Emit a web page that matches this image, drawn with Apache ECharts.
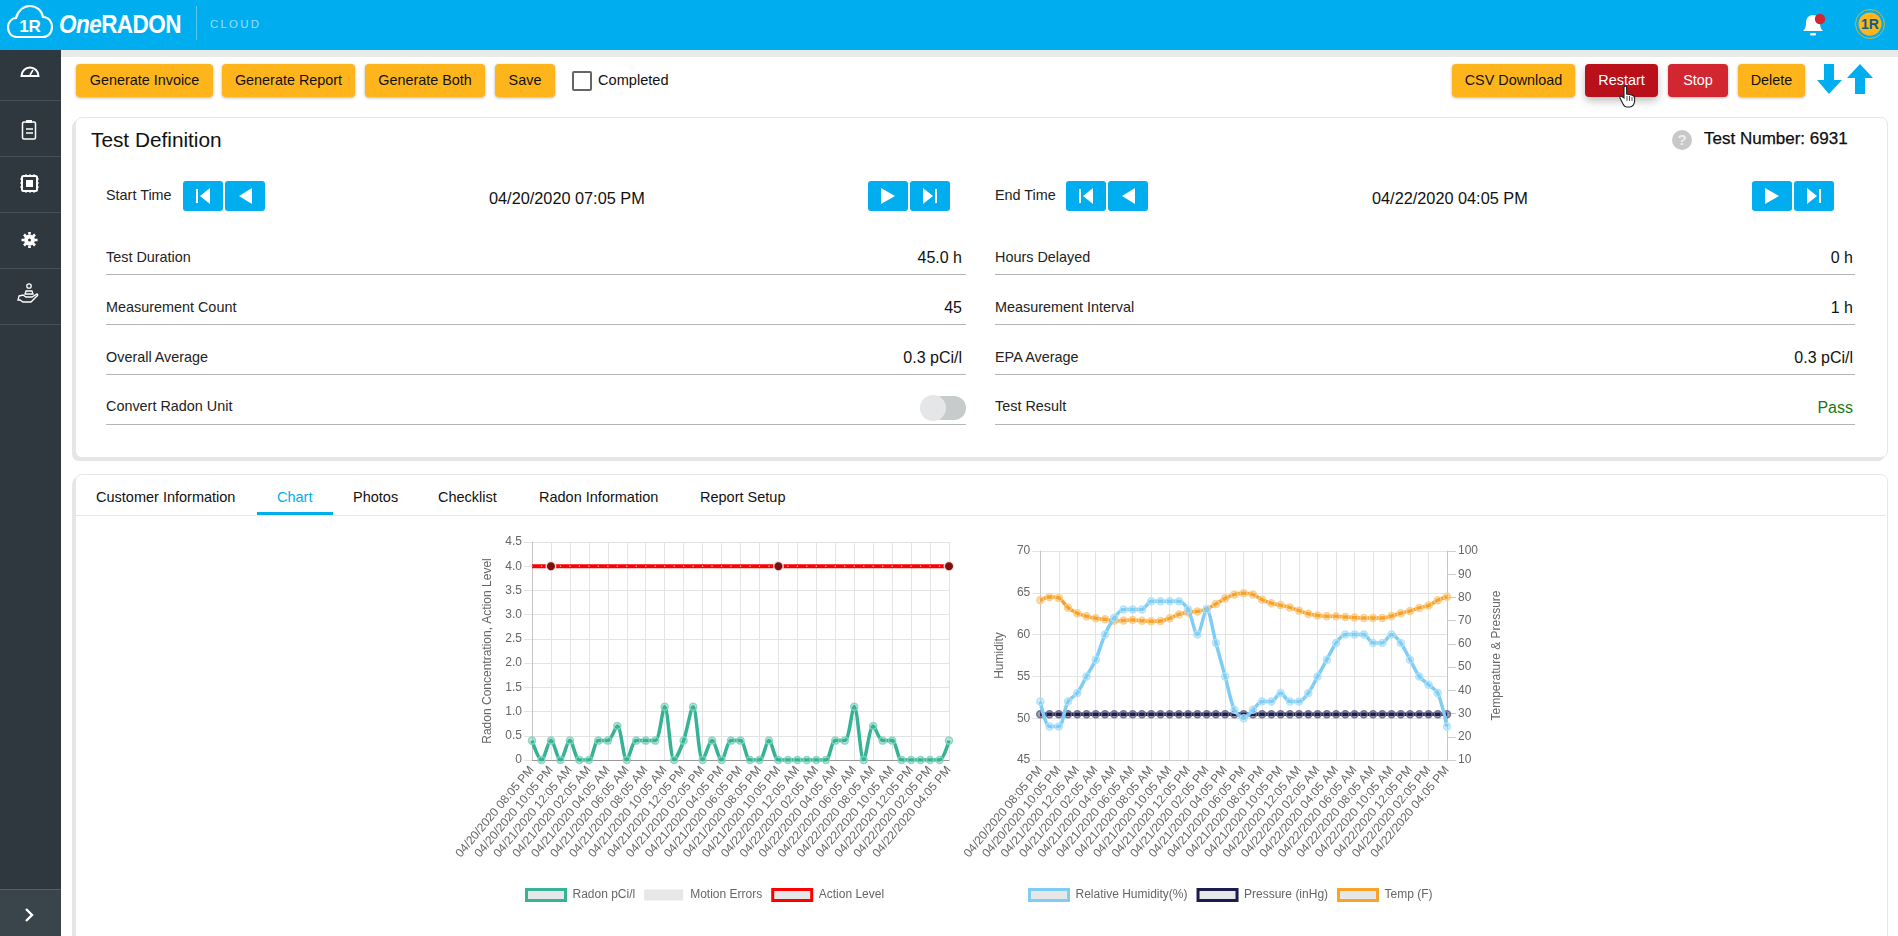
<!DOCTYPE html>
<html>
<head>
<meta charset="utf-8">
<title>OneRADON</title>
<script src="https://cdn.jsdelivr.net/npm/echarts@6/dist/echarts.min.js"></script>
<style>
html, body { margin: 0; padding: 0; width: 1898px; height: 936px; overflow: hidden; background: #fff; font-family: "Liberation Sans", Arial, sans-serif; color: #111; }
.abs, .btn, .label, .value, .rule, .nav, .tab, .sq, .card { position: absolute; }
.btn { top: 64px; height: 33px; line-height: 33px; text-align: center; font-size: 14.4px; border-radius: 4px; background: #fdb51b; box-shadow: 0 1px 3px rgba(0,0,0,.3); }
.red { color: #fff; }
.label { font-size: 14.4px; color: #222; line-height: 18px; }
.value { font-size: 16px; line-height: 18px; text-align: right; }
.rule { height: 1px; background: #b5b5b5; }
.nav { left: 0; width: 61px; height: 1px; background: #444e55; }
.tab { top: 488px; font-size: 14.5px; line-height: 18px; }
.sq { top: 181px; height: 30px; background: #00aeef; border-radius: 3px; }
.card { background: #fff; border: 1px solid #e4e6e8; border-radius: 7px; box-shadow: -3px 3px 0 #e4e6e8; }
.chart { position: absolute; }
</style>
</head>
<body>
<!-- header -->
<div class="abs" style="left:0;top:50px;width:1898px;height:7px;background:#e8eaec"></div>
<div class="abs" style="left:0;top:0;width:1898px;height:50px;background:#00aeef"></div>
<svg class="abs" style="left:6px;top:4px" width="48" height="36" viewBox="0 0 48 36">
  <path d="M11 33 C4 33 2 27 2 23 C2 18 6 14 10 14 C12 6 18 2 24 2 C31 2 36 7 37 13 C43 13 46 18 46 23 C46 29 42 33 37 33 Z" fill="none" stroke="#fff" stroke-width="2.2"/>
  <text x="24" y="28" text-anchor="middle" font-size="17" font-weight="bold" fill="#fff" font-family="Liberation Sans">1R</text>
</svg>
<div class="abs" style="left:59px;top:8px;color:#fff;font-size:25px;line-height:32px;letter-spacing:-.6px;font-weight:bold;transform:scaleX(.9);transform-origin:left"><i>One</i>RADON</div>
<div class="abs" style="left:196px;top:6px;width:1px;height:34px;background:rgba(255,255,255,.35)"></div>
<div class="abs" style="left:210px;top:17px;color:rgba(255,255,255,.6);font-size:11.5px;line-height:14px;letter-spacing:2.2px">CLOUD</div>
<svg class="abs" style="left:1800px;top:10px" width="30" height="28" viewBox="0 0 30 28">
  <path d="M13 5 C8 5 6 9 6 13 C6 17 5 19 3 21 L23 21 C21 19 20 17 20 13 C20 9 18 5 13 5 Z" fill="#fff"/>
  <rect x="10" y="23" width="6" height="2.4" rx="1.2" fill="#fff"/>
  <circle cx="20" cy="9" r="5.2" fill="#d22630"/>
</svg>
<svg class="abs" style="left:1854px;top:8px" width="32" height="32" viewBox="0 0 32 32">
  <circle cx="16" cy="16" r="14.5" fill="none" stroke="#fdb51b" stroke-width=".8"/>
  <circle cx="16" cy="16" r="11.5" fill="#fdb51b"/>
  <text x="16" y="21" text-anchor="middle" font-size="14" font-weight="bold" fill="#0b5c8a" font-family="Liberation Sans">1R</text>
</svg>

<!-- sidebar -->
<div class="abs" style="left:0;top:50px;width:61px;height:886px;background:#2f383f"></div>
<div class="abs" style="left:0;top:889px;width:61px;height:47px;background:#39444b"></div>
<div class="nav" style="top:100px"></div>
<div class="nav" style="top:156px"></div>
<div class="nav" style="top:212px"></div>
<div class="nav" style="top:268px"></div>
<div class="nav" style="top:324px"></div>
<div class="nav" style="top:889px;background:#55616a"></div>
<svg class="abs" style="left:0;top:50px" width="61" height="300" viewBox="0 0 61 300" fill="none" stroke="#fff">
  <path d="M21.5 26 A8 8 0 1 1 38.5 26 Z" stroke-width="2"/><path d="M30 25 L33 20" stroke-width="1.5"/>
  <rect x="22.5" y="72" width="13" height="17" rx="1.5" stroke-width="1.5"/><rect x="26" y="70" width="6" height="3" fill="#fff" stroke="none"/><path d="M26 79h7M26 83h7" stroke-width="1.3"/>
  <rect x="22" y="126" width="15" height="15" rx="1.5" stroke-width="2"/><rect x="26" y="130" width="7" height="7" fill="#fff" stroke="none"/><path d="M20 129h2M20 133h2M20 137h2M37 129h2M37 133h2M37 137h2M26 124v2M30 124v2M34 124v2M26 141v2M30 141v2M34 141v2" stroke-width="1"/>
  <circle cx="29.5" cy="190" r="3.5" stroke-width="4"/><path d="M29.5 182v2.5M29.5 195.5v2.5M21.5 190h2.5M35 190h2.5M24 184.5l2 2M33 193.5l2 2M35 184.5l-2 2M26 193.5l-2 2" stroke-width="2.6"/>
  <circle cx="29" cy="236" r="2.2" stroke-width="1.3"/><path d="M26 241h6l1 3h-8zM19 246l4-1 3 2h6l5-3c1 0 1 2 0 2l-6 6h-8l-3-2h-2z" stroke-width="1.3"/>
</svg>
<svg class="abs" style="left:23px;top:907px" width="12" height="16" viewBox="0 0 12 16"><path d="M3 2 L9 8 L3 14" fill="none" stroke="#fff" stroke-width="2.4"/></svg>

<!-- toolbar -->
<div class="btn" style="left:76px;width:137px">Generate Invoice</div>
<div class="btn" style="left:222px;width:133px">Generate Report</div>
<div class="btn" style="left:365px;width:120px">Generate Both</div>
<div class="btn" style="left:495px;width:60px">Save</div>
<div class="abs" style="left:572px;top:71px;width:16px;height:16px;border:2px solid #666;border-radius:2px"></div>
<div class="abs" style="left:598px;top:71px;font-size:14.6px;line-height:18px">Completed</div>
<div class="btn" style="left:1452px;width:123px">CSV Download</div>
<div class="btn red" style="left:1585px;width:73px;background:#b9101a;box-shadow:0 4px 8px rgba(0,0,0,.25)">Restart</div>
<div class="btn red" style="left:1668px;width:60px;background:#d22630">Stop</div>
<div class="btn" style="left:1738px;width:67px">Delete</div>
<svg class="abs" style="left:1816px;top:63px" width="60" height="32" viewBox="0 0 60 32" fill="#00aeef">
  <path d="M8 1h10v16h8L13 31 1 17h7z"/><path d="M44 1l13 14h-8v16H39V15h-8z"/>
</svg>
<svg class="abs" style="left:1618px;top:85px" width="20" height="24" viewBox="0 0 20 24">
  <path d="M6 2c1-1.5 2.5-1 2.6.5V9l5 1c2 .5 3 1.5 3 3v3c0 3-2 6-5 6H9c-2 0-3-1-4-3l-3-6c-.5-1.5 1-2.5 2-1.5L6 13z" fill="#fff" stroke="#222" stroke-width="1.1"/>
  <path d="M9 11v5M11.5 11v5M14 12v4" stroke="#222" stroke-width=".8"/>
</svg>

<!-- test definition -->
<div class="card" style="left:75px;top:117px;width:1811px;height:339px"></div>
<div class="abs" style="left:91px;top:128px;font-size:20.8px;line-height:24px">Test Definition</div>
<div class="abs" style="left:1672px;top:130px;width:20px;height:20px;border-radius:10px;background:#c8c8c8;color:#eee;text-align:center;line-height:20px;font-size:15px;font-weight:bold">?</div>
<div class="abs" style="left:1704px;top:129px;font-size:17px;line-height:20px;-webkit-text-stroke:.25px #000">Test Number: 6931</div>

<div class="label" style="left:106px;top:186px">Start Time</div>
<div class="label" style="left:995px;top:186px">End Time</div>
<div class="abs" style="left:489px;top:189px;font-size:16.3px;line-height:18px">04/20/2020 07:05 PM</div>
<div class="abs" style="left:1372px;top:189px;font-size:16.3px;line-height:18px">04/22/2020 04:05 PM</div>

<div class="sq" style="left:183px;width:40px"><svg width="40" height="30"><path d="M13 8h2v14h-2zM27 7v16l-10-8z" fill="#fff"/></svg></div>
<div class="sq" style="left:225px;width:40px"><svg width="40" height="30"><path d="M27 7v16l-13-8z" fill="#fff"/></svg></div>
<div class="sq" style="left:868px;width:40px"><svg width="40" height="30"><path d="M13 7v16l14-8z" fill="#fff"/></svg></div>
<div class="sq" style="left:910px;width:40px"><svg width="40" height="30"><path d="M13 7v16l10-8zM25 8h2v14h-2z" fill="#fff"/></svg></div>
<div class="sq" style="left:1066px;width:40px"><svg width="40" height="30"><path d="M13 8h2v14h-2zM27 7v16l-10-8z" fill="#fff"/></svg></div>
<div class="sq" style="left:1108px;width:40px"><svg width="40" height="30"><path d="M27 7v16l-13-8z" fill="#fff"/></svg></div>
<div class="sq" style="left:1752px;width:40px"><svg width="40" height="30"><path d="M13 7v16l14-8z" fill="#fff"/></svg></div>
<div class="sq" style="left:1794px;width:40px"><svg width="40" height="30"><path d="M13 7v16l10-8zM25 8h2v14h-2z" fill="#fff"/></svg></div>

<div class="label" style="left:106px;top:248px">Test Duration</div>
<div class="label" style="left:106px;top:298px">Measurement Count</div>
<div class="label" style="left:106px;top:348px">Overall Average</div>
<div class="label" style="left:106px;top:397px">Convert Radon Unit</div>
<div class="value" style="left:800px;width:162px;top:249px">45.0 h</div>
<div class="value" style="left:800px;width:162px;top:299px">45</div>
<div class="value" style="left:800px;width:162px;top:349px">0.3 pCi/l</div>
<div class="rule" style="left:106px;width:860px;top:274px"></div>
<div class="rule" style="left:106px;width:860px;top:324px"></div>
<div class="rule" style="left:106px;width:860px;top:374px"></div>
<div class="rule" style="left:106px;width:860px;top:424px"></div>
<div class="abs" style="left:930px;top:396px;width:36px;height:24px;border-radius:12px;background:#c8cbcc"></div>
<div class="abs" style="left:920px;top:395px;width:26px;height:26px;border-radius:13px;background:#e4e6e8"></div>

<div class="label" style="left:995px;top:248px">Hours Delayed</div>
<div class="label" style="left:995px;top:298px">Measurement Interval</div>
<div class="label" style="left:995px;top:348px">EPA Average</div>
<div class="label" style="left:995px;top:397px">Test Result</div>
<div class="value" style="left:1700px;width:153px;top:249px">0 h</div>
<div class="value" style="left:1700px;width:153px;top:299px">1 h</div>
<div class="value" style="left:1700px;width:153px;top:349px">0.3 pCi/l</div>
<div class="value" style="left:1700px;width:153px;top:399px;color:#1a7a12">Pass</div>
<div class="rule" style="left:995px;width:860px;top:274px"></div>
<div class="rule" style="left:995px;width:860px;top:324px"></div>
<div class="rule" style="left:995px;width:860px;top:374px"></div>
<div class="rule" style="left:995px;width:860px;top:424px"></div>

<!-- tabs -->
<div class="card" style="left:75px;top:474px;width:1811px;height:480px"></div>
<div class="abs" style="left:76px;top:515px;width:1810px;height:1px;background:#e4e6e8"></div>
<div class="abs" style="left:257px;top:512px;width:76px;height:3px;background:#00aeef"></div>
<div class="tab" style="left:96px">Customer Information</div>
<div class="tab" style="left:277px;color:#00aeef">Chart</div>
<div class="tab" style="left:353px">Photos</div>
<div class="tab" style="left:438px">Checklist</div>
<div class="tab" style="left:539px">Radon Information</div>
<div class="tab" style="left:700px">Report Setup</div>

<div id="radonChart" class="chart" style="left:440px;top:520px;width:530px;height:400px"></div>
<div id="climateChart" class="chart" style="left:960px;top:520px;width:560px;height:400px"></div>

<script>
var timeLabels = [
    '04/20/2020 08:05 PM', '04/20/2020 09:05 PM', '04/20/2020 10:05 PM', '04/20/2020 11:05 PM',
    '04/21/2020 12:05 AM', '04/21/2020 01:05 AM', '04/21/2020 02:05 AM', '04/21/2020 03:05 AM',
    '04/21/2020 04:05 AM', '04/21/2020 05:05 AM', '04/21/2020 06:05 AM', '04/21/2020 07:05 AM',
    '04/21/2020 08:05 AM', '04/21/2020 09:05 AM', '04/21/2020 10:05 AM', '04/21/2020 11:05 AM',
    '04/21/2020 12:05 PM', '04/21/2020 01:05 PM', '04/21/2020 02:05 PM', '04/21/2020 03:05 PM',
    '04/21/2020 04:05 PM', '04/21/2020 05:05 PM', '04/21/2020 06:05 PM', '04/21/2020 07:05 PM',
    '04/21/2020 08:05 PM', '04/21/2020 09:05 PM', '04/21/2020 10:05 PM', '04/21/2020 11:05 PM',
    '04/22/2020 12:05 AM', '04/22/2020 01:05 AM', '04/22/2020 02:05 AM', '04/22/2020 03:05 AM',
    '04/22/2020 04:05 AM', '04/22/2020 05:05 AM', '04/22/2020 06:05 AM', '04/22/2020 07:05 AM',
    '04/22/2020 08:05 AM', '04/22/2020 09:05 AM', '04/22/2020 10:05 AM', '04/22/2020 11:05 AM',
    '04/22/2020 12:05 PM', '04/22/2020 01:05 PM', '04/22/2020 02:05 PM', '04/22/2020 03:05 PM',
    '04/22/2020 04:05 PM'
];
var radon = [0.4, 0, 0.4, 0, 0.4, 0, 0, 0.4, 0.4, 0.7, 0, 0.4, 0.4, 0.4, 1.1, 0, 0.4, 1.1, 0, 0.4, 0, 0.4, 0.4,
    0, 0, 0.4, 0, 0, 0, 0, 0, 0, 0.4, 0.4, 1.1, 0, 0.7, 0.4, 0.4, 0, 0, 0, 0, 0, 0.4];
var actionLevel = [4, 4, 4, 4, 4, 4, 4, 4, 4, 4, 4, 4, 4, 4, 4, 4, 4, 4, 4, 4, 4, 4, 4,
    4, 4, 4, 4, 4, 4, 4, 4, 4, 4, 4, 4, 4, 4, 4, 4, 4, 4, 4, 4, 4, 4];
var actionDots = [2, 26, 44];
var humidity = [52, 49, 49, 52, 53, 55, 57, 60, 62, 63, 63, 63, 64, 64, 64, 64, 63, 60, 63, 59, 55, 51, 50,
    51, 52, 52, 53, 52, 52, 53, 55, 57, 59, 60, 60, 60, 59, 59, 60, 59, 57, 55, 54, 53, 49];
var pressure = [29.7, 29.7, 29.7, 29.7, 29.7, 29.7, 29.7, 29.7, 29.7, 29.7, 29.7, 29.7, 29.7, 29.7, 29.7, 29.7, 29.7, 29.7, 29.7, 29.7, 29.7, 29.7, 29.7,
    29.7, 29.7, 29.7, 29.7, 29.7, 29.7, 29.7, 29.7, 29.7, 29.7, 29.7, 29.7, 29.7, 29.7, 29.7, 29.7, 29.7, 29.7, 29.7, 29.7, 29.7, 29.7];
var temp = [78.8, 80.2, 79.8, 75.6, 73.2, 71.9, 71, 70.6, 70, 70.1, 70.3, 70, 69.7, 69.9, 71, 72.7, 73.6, 74, 75, 77.2, 79.6, 81.3, 81.8,
    81.3, 79, 77.5, 76.7, 75.7, 74.3, 73, 72.2, 71.9, 71.9, 71.6, 71.4, 71.1, 71.1, 71.1, 72, 73.2, 74.2, 75.5, 76.5, 78.8, 80.3];

var FONT = 'Liberation Sans';
var GRID_LINE = '#e3e3e3';

function xAxis(lineColor) {
    return {
        type: 'category',
        boundaryGap: false,
        data: timeLabels,
        axisLine: { lineStyle: { color: lineColor } },
        axisTick: { show: false },
        axisLabel: { interval: 1, rotate: 50, color: '#666', fontFamily: FONT, fontSize: 12, margin: 8, hideOverlap: false },
        splitLine: { show: true, interval: 1, lineStyle: { color: GRID_LINE } }
    };
}

function yAxis(opts) {
    return Object.assign({
        type: 'value',
        nameLocation: 'middle',
        nameTextStyle: { color: '#666', fontFamily: FONT, fontSize: 12 },
        axisLine: { show: true, onZero: false, lineStyle: { color: '#c4c4c4' } },
        axisTick: { show: true, length: 8, lineStyle: { color: GRID_LINE } },
        axisLabel: { color: '#666', fontFamily: FONT, fontSize: 12, margin: 10 },
        splitLine: { show: true, lineStyle: { color: GRID_LINE } }
    }, opts);
}

function lineSeries(name, data, color, fill, ring, yAxisIndex, z) {
    return {
        name: name,
        type: 'line',
        data: data,
        yAxisIndex: yAxisIndex,
        z: z,
        smooth: 0.3,
        symbol: 'circle',
        symbolSize: 7,
        showAllSymbol: true,
        lineStyle: { color: color, width: 3.5 },
        itemStyle: { color: fill, borderColor: ring, borderWidth: 1.5, opacity: 1 }
    };
}

function legendItem(name, border) {
    return { name: name, icon: 'rect', itemStyle: { color: '#e5e7e9', borderColor: border, borderWidth: 3 } };
}

function legend(left, gap, items) {
    return {
        left: left,
        top: 368,
        padding: 0,
        itemWidth: 39,
        itemHeight: 11,
        itemGap: gap,
        textStyle: { color: '#666', fontFamily: FONT, fontSize: 12, padding: [0, 0, 0, 2] },
        data: items
    };
}

var radonChart = echarts.init(document.getElementById('radonChart'));
radonChart.setOption({
    animation: false,
    grid: { left: 92, top: 22, width: 417, height: 218 },
    legend: legend(85, 9, [
        legendItem('Radon pCi/l', '#36b394'),
        { name: 'Motion Errors', icon: 'rect', itemStyle: { color: '#e5e7e9', borderWidth: 0 } },
        legendItem('Action Level', '#ff0000')
    ]),
    xAxis: xAxis('#999999'),
    yAxis: yAxis({
        min: 0, max: 4.5, interval: 0.5,
        name: 'Radon Concentration, Action Level',
        nameGap: 38,
        axisLabel: {
            color: '#666', fontFamily: FONT, fontSize: 12, margin: 10,
            formatter: function (v) { return v === 0 ? '0' : v.toFixed(1); }
        }
    }),
    series: [
        lineSeries('Radon pCi/l', radon, '#36b394', 'rgba(54,179,148,.3)', 'rgba(130,212,190,.9)', 0, 3),
        { name: 'Motion Errors', type: 'line', data: [], itemStyle: { color: '#e5e7e9' } },
        {
            name: 'Action Level',
            type: 'line',
            z: 2,
            symbol: 'circle',
            showAllSymbol: true,
            lineStyle: { color: '#ff0000', width: 4 },
            data: actionLevel.map(function (v, i) {
                return actionDots.indexOf(i) >= 0
                    ? { value: v, symbolSize: 9.5, itemStyle: { color: '#7b1010', borderColor: 'rgba(255,235,235,.85)', borderWidth: 1.5 } }
                    : { value: v, symbolSize: 1.5, itemStyle: { color: '#ffb0b0' } };
            })
        }
    ]
});

var climateChart = echarts.init(document.getElementById('climateChart'));
climateChart.setOption({
    animation: false,
    grid: { left: 72, top: 31, width: 415, height: 209 },
    legend: legend(68, 9, [
        legendItem('Relative Humidity(%)', '#7fcdf5'),
        legendItem('Pressure (inHg)', '#1c1c4a'),
        legendItem('Temp (F)', '#f7a32b')
    ]),
    xAxis: xAxis('#cccccc'),
    yAxis: [
        yAxis({ min: 45, max: 70, interval: 5, name: 'Humidity', nameGap: 34 }),
        yAxis({
            min: 10, max: 100, interval: 10, position: 'right',
            name: 'Temperature & Pressure', nameGap: 44,
            splitLine: { show: false },
            axisTick: { show: true, length: 9, lineStyle: { color: '#cccccc' } },
            axisLabel: { color: '#666', fontFamily: FONT, fontSize: 12, margin: 11 }
        })
    ],
    series: [
        lineSeries('Relative Humidity(%)', humidity, '#7fcdf5', 'rgba(127,205,245,.35)', 'rgba(175,225,250,.9)', 0, 4),
        lineSeries('Pressure (inHg)', pressure, '#1c1c4a', 'rgba(28,28,74,.4)', 'rgba(110,110,145,.95)', 1, 3),
        lineSeries('Temp (F)', temp, '#f7a32b', 'rgba(247,163,43,.35)', 'rgba(250,205,140,.9)', 1, 2)
    ]
});
</script>
</body>
</html>
